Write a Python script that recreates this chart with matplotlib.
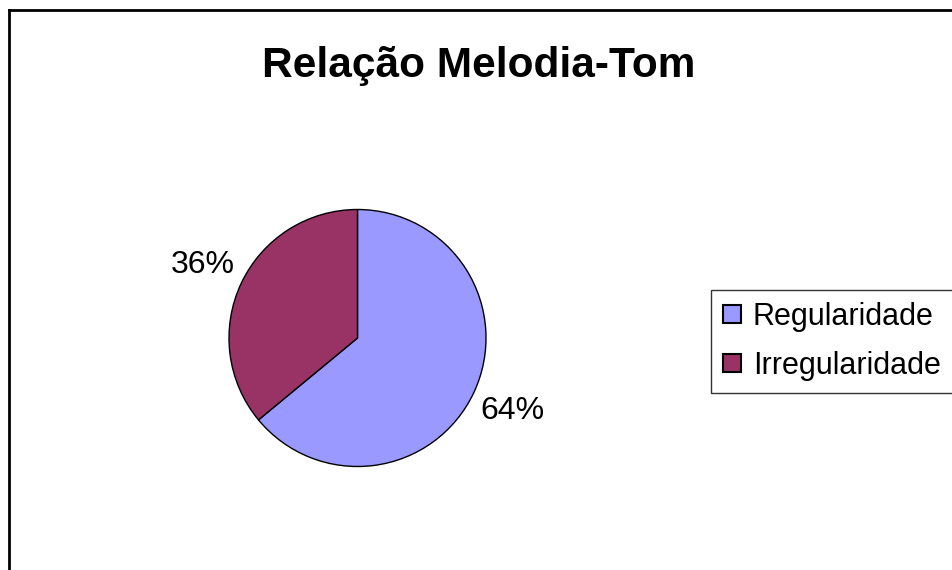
import matplotlib
matplotlib.use("Agg")
import matplotlib.pyplot as plt
from matplotlib.lines import Line2D
from matplotlib.patches import Patch

plt.rcParams['font.family'] = ['Liberation Sans', 'DejaVu Sans']

categories = ["Regularidade", "Irregularidade"]
values = [64, 36]
colors = ["#9999FF", "#993366"]
title = "Relação Melodia-Tom"

W, H = 953, 570
fig = plt.figure(figsize=(W / 100, H / 100), dpi=100)
fig.patch.set_facecolor("white")

# outer chart border (extends past right/bottom edges)
bx, by = 9.5, 9.5
fig.add_artist(Line2D([bx / W, 1.0], [1 - by / H, 1 - by / H], color="black", lw=2.0, transform=fig.transFigure))
fig.add_artist(Line2D([bx / W, bx / W], [0.0, 1 - by / H], color="black", lw=2.0, transform=fig.transFigure))

# pie axes: centre (357.5, 338) px, radius 128.5 px
cx, cy, r = 357.5, 338, 128.5
ax = fig.add_axes([(cx - r) / W, (H - cy - r) / H, 2 * r / W, 2 * r / H])
wedges, texts, autotexts = ax.pie(
    values, colors=colors, startangle=90, counterclock=False,
    autopct=lambda p: f"{p:.0f}%", pctdistance=1.33,
    wedgeprops=dict(edgecolor="black", linewidth=1.0),
    textprops=dict(fontsize=23, color="black"),
)
ax.set_xlim(-1, 1)
ax.set_ylim(-1, 1)
ax.set_aspect("auto")
ax.axis("off")

fig.text(479 / W, 1 - 77 / H, title, ha="center", va="baseline",
         fontsize=30.5, fontweight="bold")

handles = [Patch(facecolor=c, edgecolor="black", linewidth=1.5) for c in colors]
leg = fig.legend(handles, categories, loc="upper left",
                 bbox_to_anchor=(711 / W, 1 - 290 / H), borderaxespad=0,
                 fontsize=22, frameon=True, fancybox=False,
                 handlelength=0.59, handleheight=0.53, handletextpad=0.39,
                 borderpad=0.39, labelspacing=0.62)
leg.get_frame().set_edgecolor("black")
leg.get_frame().set_linewidth(1.0)

fig.savefig("out.png", dpi=100, facecolor="white")
